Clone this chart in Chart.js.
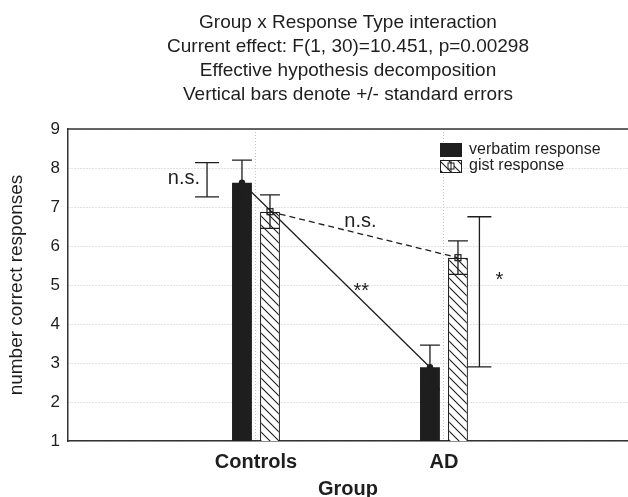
<!DOCTYPE html>
<html>
<head>
<meta charset="utf-8">
<script src="https://cdn.jsdelivr.net/npm/chart.js@4.4.0/dist/chart.umd.min.js"></script>
<style>
html,body{margin:0;padding:0;background:#fff;}
#wrap{width:628px;height:497px;}
canvas{display:block;}
</style>
</head>
<body>
<div id="wrap"><canvas id="c" width="628" height="497"></canvas></div>
<script>
// ---------------- data ----------------
const categories = ['Controls', 'AD'];
const seriesNames = ['verbatim response', 'gist response'];
const verbatimMeans = [7.62, 2.89];
const verbatimSE = [0.58, 0.57];
const gistMeans = [6.88, 5.70];
const gistSE = [0.43, 0.43];
const yTicks = [1, 2, 3, 4, 5, 6, 7, 8, 9];
const titleLines = [
  'Group x Response Type interaction',
  'Current effect: F(1, 30)=10.451, p=0.00298',
  'Effective hypothesis decomposition',
  'Vertical bars denote +/- standard errors'
];
const yAxisTitle = 'number correct responses';
const xAxisTitle = 'Group';
// significance brackets (y-values) per group
const bracketLabels = ['n.s.', '*'];
const bracketLow = [7.26, 2.90];
const bracketHigh = [8.14, 6.75];
// comparison labels along the connecting lines
const comparisonLabels = ['n.s.', '**'];
const comparisonX = [1.47, 1.56];
const comparisonY = [6.62, 4.83];

// ---------------- style ----------------
const FONT = "'Liberation Sans', Arial, Helvetica, sans-serif";
const INK = '#1e1e1e';
Chart.defaults.font.family = FONT;
Chart.defaults.color = INK;

const canvas = document.getElementById('c');
const mainCtx = canvas.getContext('2d');
function makeHatch() {
  const s = 9;
  const c = document.createElement('canvas');
  c.width = s; c.height = s;
  const g = c.getContext('2d');
  g.fillStyle = '#fff'; g.fillRect(0, 0, s, s);
  g.strokeStyle = INK; g.lineWidth = 1.1;
  g.beginPath();
  g.moveTo(-1, -1); g.lineTo(s + 1, s + 1);
  g.moveTo(-1, s - 1); g.lineTo(1, s + 1);
  g.moveTo(s - 1, -1); g.lineTo(s + 1, 1);
  g.stroke();
  return mainCtx.createPattern(c, 'repeat');
}
const hatch = makeHatch();

const overlay = {
  id: 'overlay',
  afterDatasetsDraw(chart) {
    const { ctx, chartArea: ca, scales: { x, y } } = chart;
    const m0 = chart.getDatasetMeta(0);
    const m1 = chart.getDatasetMeta(1);
    ctx.save();
    ctx.strokeStyle = INK;
    ctx.fillStyle = INK;
    ctx.lineWidth = 1.3;

    // connecting lines between group means
    const link = (meta, dash) => {
      ctx.save();
      ctx.setLineDash(dash);
      ctx.beginPath();
      ctx.moveTo(meta.data[0].x, meta.data[0].y);
      ctx.lineTo(meta.data[1].x, meta.data[1].y);
      ctx.stroke();
      ctx.restore();
    };
    link(m0, []);
    link(m1, [6, 4]);

    // error bars
    const errs = [[m0, verbatimMeans, verbatimSE], [m1, gistMeans, gistSE]];
    errs.forEach(([meta, means, se]) => {
      meta.data.forEach((bar, i) => {
        const hw = bar.width / 2;
        const yt = y.getPixelForValue(means[i] + se[i]);
        const yb = y.getPixelForValue(means[i] - se[i]);
        ctx.beginPath();
        ctx.moveTo(bar.x, yt); ctx.lineTo(bar.x, yb);
        ctx.moveTo(bar.x - hw, yt); ctx.lineTo(bar.x + hw, yt);
        ctx.moveTo(bar.x - hw, yb); ctx.lineTo(bar.x + hw, yb);
        ctx.stroke();
      });
    });

    // markers
    m0.data.forEach(bar => {
      ctx.beginPath();
      ctx.arc(bar.x, bar.y, 3.2, 0, Math.PI * 2);
      ctx.fill();
    });
    m1.data.forEach(bar => {
      ctx.save();
      ctx.lineWidth = 1.2;
      ctx.strokeRect(bar.x - 3, bar.y - 3, 6, 6);
      ctx.restore();
    });

    // significance brackets
    const bx = [
      m0.data[0].x - m0.data[0].width / 2 - 25,
      m1.data[1].x + m1.data[1].width / 2 + 11.5
    ];
    bx.forEach((xx, i) => {
      const y1 = y.getPixelForValue(bracketHigh[i]);
      const y2 = y.getPixelForValue(bracketLow[i]);
      ctx.beginPath();
      ctx.moveTo(xx, y1); ctx.lineTo(xx, y2);
      ctx.moveTo(xx - 12, y1); ctx.lineTo(xx + 12, y1);
      ctx.moveTo(xx - 12, y2); ctx.lineTo(xx + 12, y2);
      ctx.stroke();
    });
    ctx.textBaseline = 'middle';
    ctx.font = '20px ' + FONT;
    ctx.textAlign = 'right';
    ctx.fillText(bracketLabels[0], bx[0] - 7,
      (y.getPixelForValue(bracketHigh[0]) + y.getPixelForValue(bracketLow[0])) / 2 - 1);
    ctx.textAlign = 'center';
    ctx.fillText(bracketLabels[1], bx[1] + 20,
      (y.getPixelForValue(bracketHigh[1]) + y.getPixelForValue(bracketLow[1])) / 2 - 11);

    // comparison labels
    ctx.textAlign = 'left';
    ctx.fillText(comparisonLabels[0], x.getPixelForValue(comparisonX[0]), y.getPixelForValue(comparisonY[0]));
    ctx.textAlign = 'center';
    ctx.fillText(comparisonLabels[1], x.getPixelForValue(comparisonX[1]), y.getPixelForValue(comparisonY[1]));

    // legend
    const lx = ca.left + 372, ly = ca.top + 14;
    ctx.fillStyle = INK;
    ctx.fillRect(lx, ly, 22, 14);
    ctx.fillStyle = hatch;
    ctx.fillRect(lx, ly + 17, 22, 13);
    ctx.lineWidth = 1;
    ctx.strokeRect(lx + 0.5, ly + 17.5, 21, 12);
    ctx.fillStyle = '#fff';
    ctx.fillRect(lx + 8, ly + 20, 6, 6);
    ctx.strokeRect(lx + 8, ly + 20, 6, 6);
    ctx.beginPath();
    ctx.moveTo(lx + 11, ly + 17); ctx.lineTo(lx + 11, ly + 30);
    ctx.stroke();
    ctx.fillStyle = INK;
    ctx.font = '16px ' + FONT;
    ctx.textAlign = 'left';
    ctx.textBaseline = 'middle';
    chart.data.datasets.forEach((ds, i) => {
      ctx.fillText(ds.label, lx + 29, ly + 7 + i * 15.5);
    });

    // top frame line
    ctx.strokeStyle = '#333';
    ctx.lineWidth = 1.5;
    ctx.beginPath();
    ctx.moveTo(ca.left, ca.top);
    ctx.lineTo(ca.right, ca.top);
    ctx.stroke();
    ctx.restore();
  }
};

new Chart(canvas, {
  type: 'bar',
  data: {
    datasets: [
      {
        label: seriesNames[0],
        data: verbatimMeans.map((v, i) => ({ x: i + 1, y: v })),
        backgroundColor: INK,
        borderWidth: 0,
        categoryPercentage: 0.298,
        barPercentage: 0.71
      },
      {
        label: seriesNames[1],
        data: gistMeans.map((v, i) => ({ x: i + 1, y: v })),
        backgroundColor: hatch,
        borderColor: INK,
        borderWidth: 1.2,
        categoryPercentage: 0.298,
        barPercentage: 0.71
      }
    ]
  },
  options: {
    responsive: false,
    animation: false,
    devicePixelRatio: 1,
    layout: { padding: 0 },
    plugins: {
      legend: { display: false },
      tooltip: { enabled: false },
      title: {
        display: true,
        fullSize: false,
        text: titleLines,
        color: INK,
        font: { size: 19, weight: 'normal', lineHeight: 24 / 19 },
        padding: { top: 11, bottom: 22 }
      }
    },
    scales: {
      x: {
        type: 'linear',
        offset: false,
        min: 0,
        max: 2.979,
        afterBuildTicks: s => { s.ticks = categories.map((_, i) => ({ value: i + 1 })); },
        afterFit: s => { s.height = 56; },
        ticks: {
          callback: v => categories[v - 1] || '',
          font: { size: 20, weight: 'bold' },
          padding: 9,
          autoSkip: false,
          maxRotation: 0,
          color: INK
        },
        grid: { offset: false, color: '#c4c4c4', drawTicks: false, lineWidth: 1 },
        border: { color: '#333', width: 1.5, dash: [1, 2] },
        title: {
          display: true,
          text: xAxisTitle,
          font: { size: 20, weight: 'bold', lineHeight: 0.8 },
          padding: 0,
          color: INK
        }
      },
      y: {
        type: 'linear',
        min: 1,
        max: 9,
        afterBuildTicks: s => { s.ticks = yTicks.map(v => ({ value: v })); },
        afterFit: s => { s.width = 68; },
        ticks: { font: { size: 17 }, padding: 8, color: INK },
        grid: { color: '#c4c4c4', drawTicks: false, lineWidth: 1 },
        border: { color: '#333', width: 1.5, dash: [1, 2] },
        title: {
          display: true,
          text: yAxisTitle,
          font: { size: 19 },
          padding: { top: 5, bottom: 0 },
          color: INK
        }
      }
    }
  },
  plugins: [overlay]
});
</script>
</body>
</html>
